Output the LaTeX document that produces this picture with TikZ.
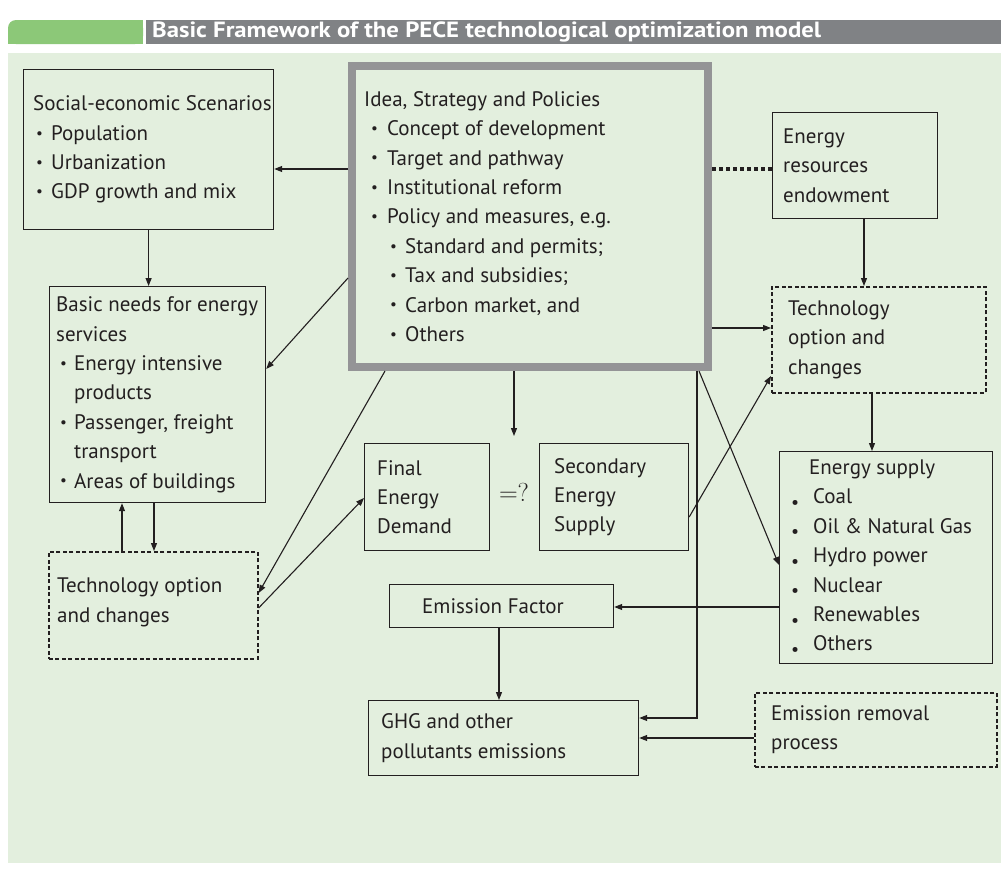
\documentclass[tikz,border=0pt]{standalone}
\usepackage{fontspec}
\setmainfont{PT Sans}
\newfontfamily\lmr{Latin Modern Roman}
\usetikzlibrary{arrows.meta,calc}
\definecolor{bgg}{RGB}{227,239,222}
\definecolor{hdg}{RGB}{128,130,133}
\definecolor{tabg}{RGB}{140,200,120}
\definecolor{ink}{RGB}{35,31,32}
\definecolor{frameg}{RGB}{148,148,150}
\newcommand\smb{\raisebox{0.1em}{\scalebox{0.72}{•}}}
\newcommand\bul[2]{\makebox[#2][l]{\hspace*{#1}\smb}}
\newcommand\lbul[2]{\makebox[#2][l]{\hspace*{#1}\raisebox{-0.22em}{\scalebox{0.85}{•}}}}
\begin{document}
\begin{tikzpicture}[x=1pt,y=-1pt,
  box/.style={draw=ink,line width=1.2pt,inner sep=0pt,anchor=north west},
  dbox/.style={box,dash pattern=on 4pt off 2.5pt,line width=1.6pt},
  txt/.style={anchor=west,align=left,inner sep=0pt,font=\fontsize{21}{29.4}\selectfont,text=ink},
  arr/.style={draw=ink,line width=1.1pt,-{Triangle[length=8pt,width=6pt]}},
  dots/.style={draw=ink,line width=3.5pt,dash pattern=on 4pt off 3pt}]
\useasboundingbox (0,0) rectangle (1001,881);
\fill[white] (0,0) rectangle (1001,881);
% header
\fill[tabg,rounded corners=8pt] (8,20) rectangle (143,44);
\fill[tabg] (20,20) rectangle (143,44);
\fill[tabg] (8,32) rectangle (143,44);
\fill[hdg] (146,20) rectangle (1001,44);
\node[anchor=west,inner sep=0pt,text=white,font=\bfseries\fontsize{22}{22}\selectfont] (title) at (152,32) {\scalebox{1.125}[1]{Basic Framework of the PECE technological optimization model}};
% background
\fill[bgg] (8,53) rectangle (1001,863);
% boxes
\node[box,minimum width=250pt,minimum height=160pt] (se) at (23,69) {};
\node[box,draw=frameg,line width=8pt,minimum width=356pt,minimum height=301pt] (isp) at (348,62) {};
\node[box,minimum width=165pt,minimum height=106pt] (ere) at (772,112) {};
\node[dbox,minimum width=214pt,minimum height=106pt] (tor) at (771,286) {};
\node[box,minimum width=216pt,minimum height=216pt] (bn) at (49,286) {};
\node[dbox,minimum width=209pt,minimum height=107pt] (tol) at (48,551) {};
\node[box,minimum width=125pt,minimum height=107pt] (fed) at (364,443) {};
\node[box,minimum width=149pt,minimum height=107pt] (ses) at (539,443) {};
\node[box,minimum width=224pt,minimum height=43pt] (ef) at (389,584) {};
\node[box,minimum width=213pt,minimum height=212pt] (es) at (779,451) {};
\node[box,minimum width=270pt,minimum height=75pt] (ghg) at (368,700) {};
\node[dbox,minimum width=242pt,minimum height=74pt] (er) at (754,692) {};
% texts
\node[txt] (seT) at ([xshift=10pt]se.west) {Social-economic Scenarios\\\bul{3pt}{18pt}Population\\\bul{3pt}{18pt}Urbanization\\\bul{3pt}{18pt}GDP growth and mix};
\node[txt] (ispT) at ([xshift=16pt]isp.west) {Idea, Strategy and Policies\\\bul{7pt}{23pt}Concept of development\\\bul{7pt}{23pt}Target and pathway\\\bul{7pt}{23pt}Institutional reform\\\bul{7pt}{23pt}Policy and measures, e.g.\\\bul{26pt}{41pt}Standard and permits;\\\bul{26pt}{41pt}Tax and subsidies;\\\bul{26pt}{41pt}Carbon market, and\\\bul{26pt}{41pt}Others};
\node[txt] (ereT) at ([xshift=11pt]ere.west) {Energy\\resources\\endowment};
\node[txt] (torT) at ([xshift=17pt]tor.west) {Technology\\option and\\changes};
\node[txt] (bnT) at ([xshift=7pt]bn.west) {Basic needs for energy\\services\\\bul{4pt}{18pt}Energy intensive\\\hspace*{18pt}products\\\bul{4pt}{18pt}Passenger, freight\\\hspace*{18pt}transport\\\bul{4pt}{18pt}Areas of buildings};
\node[txt] (tolT) at ([xshift=9pt,yshift=3pt]tol.west) {Technology option\\and changes};
\node[txt] (fedT) at ([xshift=13pt]fed.west) {Final\\Energy\\Demand};
\node[txt] (sesT) at ([xshift=15pt]ses.west) {Secondary\\Energy\\Supply};
\node[txt] (efT) at ([xshift=33pt]ef.west) {Emission Factor};
\node[txt] (esT) at ([xshift=12pt]es.west) {\hspace*{18pt}Energy supply\\\lbul{0pt}{22pt}Coal\\\lbul{0pt}{22pt}Oil \& Natural Gas\\\lbul{0pt}{22pt}Hydro power\\\lbul{0pt}{22pt}Nuclear\\\lbul{0pt}{22pt}Renewables\\\lbul{0pt}{22pt}Others};
\node[txt] (ghgT) at ([xshift=13pt]ghg.west) {GHG and other\\pollutants emissions};
\node[txt] (erT) at ([xshift=17pt]er.west) {Emission removal\\process};
\node[txt,anchor=center,font=\fontsize{26}{26}\selectfont] (eq) at (514,492) {\lmr =?};
\coordinate (eqtop) at (514,436);
% connectors
\draw[arr] (isp.west |- 0,169) -- (se.east |- 0,169);
\draw[dots] (isp.east |- 0,169) -- (ere.west |- 0,169);
\draw[arr] (se.south) -- (se.south |- bn.north);
\draw[arr] (isp.west |- 0,278) -- (bn.east |- 0,369);
\draw[arr] (tol.north -| 122,0) -- (bn.south -| 122,0);
\draw[arr] (bn.south -| 154,0) -- (tol.north -| 154,0);
\draw[arr] (isp.south -| 385,0) -- (tol.east |- 0,593);
\draw[arr] (tol.east |- 0,608) -- (fed.west |- 0,498);
\draw[arr] (isp.south -| eqtop) -- (eqtop);
\draw[arr] (isp.east |- 0,328) -- (tor.west |- 0,328);
\draw[arr] (ere.south -| 864,0) -- (tor.north -| 864,0);
\draw[arr] (ses.east |- 0,517) -- (tor.west |- 0,376);
\draw[arr] (tor.south -| 872,0) -- (es.north -| 872,0);
\draw[arr] (isp.south -| 699,0) -- (es.west |- 0,565);
\draw[arr] (es.west |- 0,607) -- (ef.east |- 0,607);
\draw[arr] (ef.south -| 499,0) -- (ghg.north -| 499,0);
\draw[arr] (isp.south -| 697,0) |- (ghg.east |- 0,718);
\draw[arr] (er.west |- 0,738) -- (ghg.east |- 0,738);
\end{tikzpicture}
\end{document}
